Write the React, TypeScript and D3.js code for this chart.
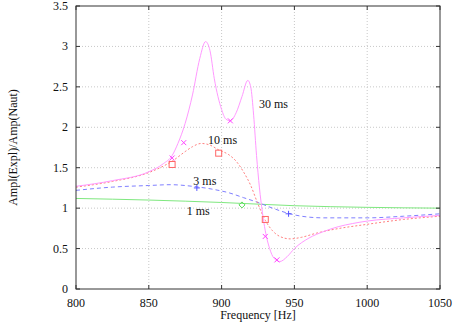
import React, { useEffect, useRef } from "react";
import * as d3 from "d3";

// curves: [frequency Hz, ratio]
const curve30ms: [number, number][] = [
  [800, 1.27], [825, 1.34], [850, 1.45], [860, 1.55], [866, 1.65], [870, 1.8],
  [875, 2.05], [880, 2.4], [885, 2.85], [889, 3.06], [892, 2.95], [895, 2.6],
  [900, 2.22], [903, 2.1], [906, 2.08], [910, 2.18], [914, 2.38], [918, 2.58],
  [920, 2.5], [922, 2.15], [924, 1.65], [926, 1.25], [928, 0.95], [930, 0.72],
  [933, 0.5], [936, 0.38], [940, 0.34], [945, 0.4], [950, 0.5], [960, 0.63],
  [970, 0.71], [980, 0.77], [990, 0.81], [1000, 0.84], [1025, 0.88], [1050, 0.91],
];
const curve10ms: [number, number][] = [
  [800, 1.26], [825, 1.33], [850, 1.44], [860, 1.52], [866, 1.58], [875, 1.7],
  [880, 1.76], [886, 1.8], [892, 1.78], [898, 1.72], [905, 1.66], [910, 1.58],
  [915, 1.45], [920, 1.28], [925, 1.05], [930, 0.85], [935, 0.72], [940, 0.65],
  [947, 0.62], [955, 0.64], [965, 0.69], [975, 0.73], [1000, 0.8], [1025, 0.86],
  [1050, 0.9],
];
const curve3ms: [number, number][] = [
  [800, 1.22], [825, 1.26], [850, 1.28], [865, 1.29], [880, 1.27], [895, 1.23],
  [905, 1.19], [915, 1.13], [925, 1.07], [935, 1.0], [945, 0.94], [955, 0.9],
  [970, 0.88], [1000, 0.88], [1025, 0.9], [1050, 0.93],
];
const curve1ms: [number, number][] = [
  [800, 1.12], [850, 1.1], [900, 1.07], [950, 1.03], [1000, 1.01], [1050, 1.0],
];

// measured points
const points30ms: [number, number][] = [[866, 1.62], [874, 1.81], [906, 2.08], [930, 0.65], [938, 0.36]];
const points10ms: [number, number][] = [[866, 1.54], [898, 1.68], [930, 0.86]];
const points3ms: [number, number][] = [[883, 1.25], [946, 0.93]];
const points1ms: [number, number][] = [[914, 1.04]];

const labels = [
  { text: "30 ms", f: 925.7, v: 2.24 },
  { text: "10 ms", f: 890.7, v: 1.79 },
  { text: "3 ms", f: 880.6, v: 1.29 },
  { text: "1 ms", f: 876, v: 0.92 },
];

const xTicks = [800, 850, 900, 950, 1000, 1050];
const yTicks = [0, 0.5, 1, 1.5, 2, 2.5, 3, 3.5];

const W = 460, H = 322;
const M = { left: 76, right: 440, top: 6, bottom: 289 };
const FONT = "'Liberation Serif', 'DejaVu Serif', serif";

export default function App() {
  const ref = useRef<SVGSVGElement>(null);

  useEffect(() => {
    const svg = d3.select(ref.current);
    svg.selectAll("*").remove();

    const x = d3.scaleLinear().domain([800, 1050]).range([M.left, M.right]);
    const y = d3.scaleLinear().domain([0, 3.5]).range([M.bottom, M.top]);

    // grid
    const grid = svg.append("g").attr("stroke", "#c8c8c8").attr("stroke-dasharray", "1,2");
    xTicks.slice(1, -1).forEach((t) =>
      grid.append("line").attr("x1", x(t)).attr("x2", x(t)).attr("y1", M.top).attr("y2", M.bottom)
    );
    yTicks.slice(1, -1).forEach((t) =>
      grid.append("line").attr("x1", M.left).attr("x2", M.right).attr("y1", y(t)).attr("y2", y(t))
    );

    const line = d3
      .line<[number, number]>()
      .x((d) => x(d[0]))
      .y((d) => y(d[1]))
      .curve(d3.curveMonotoneX);

    const series = [
      { data: curve1ms, color: "#7fe87f", dash: null },
      { data: curve3ms, color: "#7f7fff", dash: "4,3" },
      { data: curve10ms, color: "#ff7f7f", dash: "2,2" },
      { data: curve30ms, color: "#ff99ff", dash: null },
    ];
    series.forEach((s) => {
      svg
        .append("path")
        .attr("d", line(s.data))
        .attr("fill", "none")
        .attr("stroke", s.color)
        .attr("stroke-width", 1)
        .attr("stroke-dasharray", s.dash);
    });

    // markers
    const mk = svg.append("g").attr("fill", "none").attr("stroke-width", 1);
    points30ms.forEach(([f, v]) => {
      const cx = x(f), cy = y(v), r = 2.5;
      mk.append("path")
        .attr("d", `M${cx - r},${cy - r}L${cx + r},${cy + r}M${cx - r},${cy + r}L${cx + r},${cy - r}`)
        .attr("stroke", "#ff44ff");
    });
    points10ms.forEach(([f, v]) => {
      mk.append("rect")
        .attr("x", x(f) - 3).attr("y", y(v) - 3).attr("width", 6).attr("height", 6)
        .attr("stroke", "#ff6666");
    });
    points3ms.forEach(([f, v]) => {
      const cx = x(f), cy = y(v), r = 3;
      mk.append("path")
        .attr("d", `M${cx - r},${cy}L${cx + r},${cy}M${cx},${cy - r}L${cx},${cy + r}`)
        .attr("stroke", "#5555ff");
    });
    points1ms.forEach(([f, v]) => {
      const cx = x(f), cy = y(v), r = 3;
      mk.append("path")
        .attr("d", `M${cx},${cy - r}L${cx + r},${cy}L${cx},${cy + r}L${cx - r},${cy}Z`)
        .attr("stroke", "#55dd55");
    });

    // frame + ticks
    const ax = svg.append("g").attr("stroke", "#333").attr("stroke-width", 1);
    ax.append("rect")
      .attr("x", M.left).attr("y", M.top)
      .attr("width", M.right - M.left).attr("height", M.bottom - M.top)
      .attr("fill", "none");
    const tl = 4;
    xTicks.forEach((t) => {
      ax.append("line").attr("x1", x(t)).attr("x2", x(t)).attr("y1", M.bottom).attr("y2", M.bottom - tl);
      ax.append("line").attr("x1", x(t)).attr("x2", x(t)).attr("y1", M.top).attr("y2", M.top + tl);
    });
    yTicks.forEach((t) => {
      ax.append("line").attr("x1", M.left).attr("x2", M.left + tl).attr("y1", y(t)).attr("y2", y(t));
      ax.append("line").attr("x1", M.right).attr("x2", M.right - tl).attr("y1", y(t)).attr("y2", y(t));
    });

    const txt = svg.append("g").attr("font-family", FONT).attr("font-size", 12).attr("fill", "#111");
    xTicks.forEach((t) =>
      txt.append("text").attr("x", x(t)).attr("y", 306.5).attr("text-anchor", "middle").text(String(t))
    );
    yTicks.forEach((t) =>
      txt.append("text").attr("x", 68).attr("y", y(t) + 4).attr("text-anchor", "end").text(String(t))
    );
    txt.append("text")
      .attr("x", (M.left + M.right) / 2).attr("y", 318.5)
      .attr("text-anchor", "middle").text("Frequency [Hz]");
    txt.append("text")
      .attr("transform", `translate(17,${(M.top + M.bottom) / 2}) rotate(-90)`)
      .attr("text-anchor", "middle").text("Ampl(Expl)/Amp(Naut)");
    labels.forEach((l) => txt.append("text").attr("x", x(l.f)).attr("y", y(l.v)).text(l.text));
  }, []);

  return (
    <div style={{ position: "fixed", left: 0, top: 0 }}>
      <svg ref={ref} width={W} height={H} style={{ display: "block", background: "#fff" }} />
    </div>
  );
}
